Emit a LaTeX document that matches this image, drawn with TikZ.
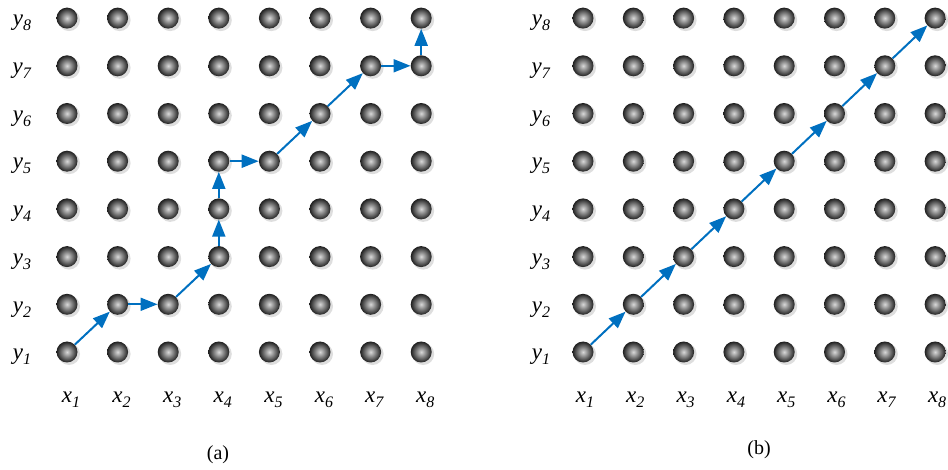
\documentclass[tikz,border=0pt]{standalone}
\usepackage{fontspec}
\setmainfont{Liberation Serif}
\usetikzlibrary{arrows.meta}
\definecolor{arrowblue}{RGB}{0,112,192}
\newcommand{\gridlab}[2]{\textit{#1}\raisebox{-5pt}{\fontsize{16}{16}\selectfont\textit{#2}}}
\begin{document}
\begin{tikzpicture}[x=1pt,y=-1pt,
  ball/.style={circle,minimum size=21pt,inner sep=0pt,shading=radial,inner color=black!15,outer color=black!88},
  shadowball/.style={circle,minimum size=22pt,inner sep=0pt,fill=black!13},
  lab/.style={font=\fontsize{23}{23}\selectfont,inner sep=0pt},
  captext/.style={font=\fontsize{20}{20}\selectfont,inner sep=0pt},
  link/.style={draw=arrowblue,line width=2pt,-{Triangle[length=17pt,width=13pt]}}
]
\useasboundingbox (0,0) rectangle (948,470);
\foreach \p/\xo/\dx/\lx/\ox in {a/67/50.6/22/4, b/583/50.3/541/2} {
  \foreach \i in {1,...,8} {
    \foreach \j in {1,...,8} {
      \path ({\xo+(\i-1)*\dx+2},{352-(\j-1)*47.7+2}) node[shadowball] (s\p\i\j) {};
      \path ({\xo+(\i-1)*\dx},{352-(\j-1)*47.7}) node[ball] (\p\i\j) {};
    }
    \path (\lx,{352-(\i-1)*47.7+5}) node[lab] (ly\p\i) {\gridlab{y}{\i}};
    \path ({\xo+(\i-1)*\dx+\ox},400) node[lab] (lx\p\i) {\gridlab{x}{\i}};
  }
}
\node[captext] (capa) at (218,455) {(a)};
\node[captext] (capb) at (759,450) {(b)};
\foreach \u/\v in {11/22,22/32,32/43,43/44,44/45,45/55,55/66,66/77,77/87,87/88}
  \draw[link] (a\u) -- (a\v);
\foreach \k [evaluate=\k as \n using int(\k+1)] in {1,...,7}
  \draw[link] (b\k\k) -- (b\n\n);
\end{tikzpicture}
\end{document}
